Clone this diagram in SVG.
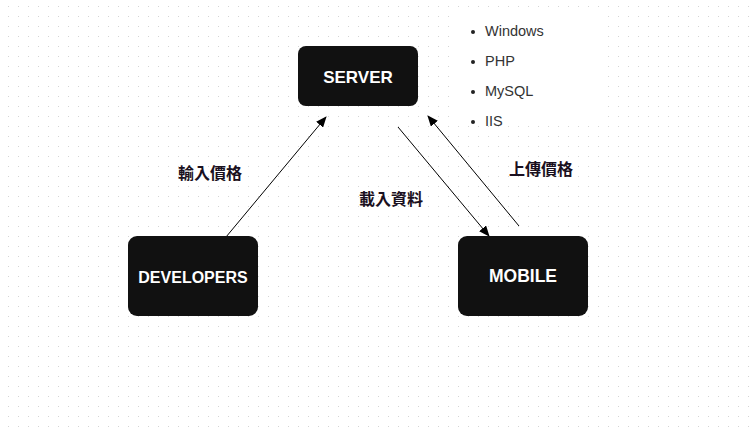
<svg xmlns="http://www.w3.org/2000/svg" width="753" height="429" viewBox="0 0 753 429">
<defs>
<pattern id="grid" x="0" y="0" width="10" height="10" patternUnits="userSpaceOnUse">
<rect x="8" y="6" width="1" height="1" fill="#d4d4d4"/>
</pattern>
<marker id="arr" markerWidth="11" markerHeight="9" refX="10" refY="4.5" orient="auto" markerUnits="userSpaceOnUse">
<path d="M0,0 L11,4.5 L0,9 Z" fill="#000"/>
</marker>
<style>
.node rect{fill:#111;}
.node text{fill:#fff;font-family:"Liberation Sans",Arial,sans-serif;font-weight:bold;text-anchor:middle;}
.conn line{stroke:#000;stroke-width:1;marker-end:url(#arr);}
.lbl{font-family:"Liberation Sans","Noto Sans CJK TC",sans-serif;font-weight:bold;font-size:16px;fill:#1a1020;}
.li{font-family:"Liberation Sans",Arial,sans-serif;font-size:14.5px;fill:#333;}
</style>
</defs>
<rect width="753" height="429" fill="#fff"/>
<rect width="753" height="429" fill="url(#grid)"/>
<rect x="458" y="12" width="145" height="110" fill="#fff"/>
<g id="list">
<circle cx="473" cy="32" r="2" fill="#222"/><text class="li" x="485" y="36">Windows</text>
<circle cx="473" cy="62" r="2" fill="#222"/><text class="li" x="485" y="66">PHP</text>
<circle cx="473" cy="92" r="2" fill="#222"/><text class="li" x="485" y="96">MySQL</text>
<circle cx="473" cy="122" r="2" fill="#222"/><text class="li" x="485" y="126">IIS</text>
</g>
<g id="connectors" class="conn">
<line x1="226" y1="237" x2="326" y2="117"/>
<line x1="398" y1="127" x2="489" y2="236"/>
<line x1="519" y1="226" x2="428" y2="116"/>
</g>
<g id="server" class="node"><rect x="298" y="46" width="120" height="60" rx="8"/><text x="358" y="83" font-size="17">SERVER</text></g>
<g id="developers" class="node"><rect x="128" y="236" width="130" height="80" rx="9"/><text x="193" y="283" font-size="16">DEVELOPERS</text></g>
<g id="mobile" class="node"><rect x="458" y="236" width="130" height="80" rx="9"/><text x="523" y="282" font-size="17.5">MOBILE</text></g>
<g id="labels">
<text class="lbl" x="178" y="179">輸入價格</text>
<text class="lbl" x="359" y="205">載入資料</text>
<text class="lbl" x="509" y="175">上傳價格</text>
</g>
</svg>
